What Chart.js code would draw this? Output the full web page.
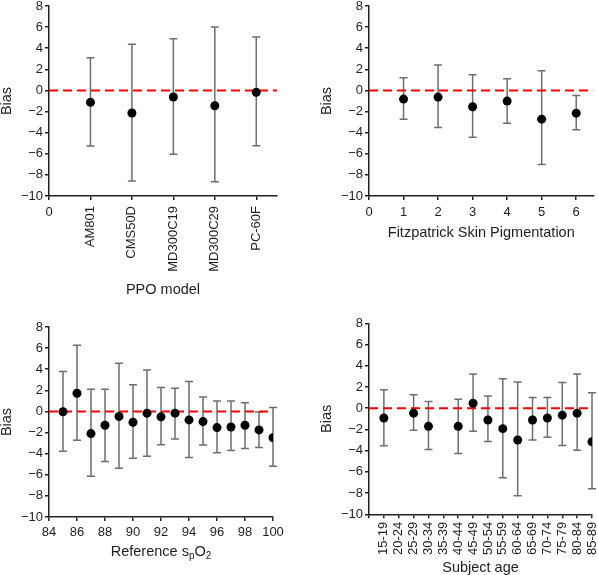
<!DOCTYPE html>
<html>
<head>
<meta charset="utf-8">
<script src="https://cdn.jsdelivr.net/npm/chart.js@4/dist/chart.umd.min.js"></script>
<style>
  html, body { margin: 0; padding: 0; background: #fff; }
  #wrap { position: relative; width: 598px; height: 575px; overflow: hidden; }
  canvas { position: absolute; }
</style>
</head>
<body>
<div id="wrap">
  <canvas id="c1" width="298" height="300" style="left:0px;top:0px;width:298px;height:300px"></canvas>
  <canvas id="c2" width="278" height="300" style="left:320px;top:0px;width:278px;height:300px"></canvas>
  <canvas id="c3" width="298" height="275" style="left:0px;top:300px;width:298px;height:275px"></canvas>
  <canvas id="c4" width="278" height="275" style="left:320px;top:300px;width:278px;height:275px"></canvas>
</div>
<script>
// ---------- DATA ----------
const yTickMin = -10, yTickMax = 8, yTickStep = 2;

const ppoModels = ['AM801', 'CMS50D', 'MD300C19', 'MD300C29', 'PC-60F'];
const ppoBias   = [-1.13, -2.14, -0.62, -1.45, -0.18];
const ppoUpper  = [3.10, 4.37, 4.90, 6.00, 5.06];
const ppoLower  = [-5.27, -8.58, -6.05, -8.64, -5.23];

const fitzTypes = [1, 2, 3, 4, 5, 6];
const fitzBias  = [-0.82, -0.63, -1.55, -1.01, -2.72, -2.15];
const fitzUpper = [1.20, 2.40, 1.49, 1.11, 1.87, -0.47];
const fitzLower = [-2.72, -3.51, -4.43, -3.10, -7.02, -3.73];

const refSpO2   = [85, 86, 87, 88, 89, 90, 91, 92, 93, 94, 95, 96, 97, 98, 99, 100];
const spo2Bias  = [-0.03, 1.72, -2.10, -1.31, -0.48, -1.02, -0.16, -0.51, -0.16, -0.80, -0.96, -1.53, -1.47, -1.31, -1.75, -2.49];
const spo2Upper = [3.79, 6.28, 2.10, 2.10, 4.56, 2.52, 3.92, 2.26, 2.20, 2.84, 1.37, 0.99, 0.99, 0.83, -0.06, 0.38];
const spo2Lower = [-3.76, -2.74, -6.15, -4.75, -5.39, -4.43, -4.24, -3.16, -2.61, -4.37, -3.19, -3.92, -3.70, -3.50, -3.41, -5.20];

const ageGroups = ['15-19', '20-24', '25-29', '30-34', '35-39', '40-44', '45-49', '50-54', '55-59', '60-64', '65-69', '70-74', '75-79', '80-84', '85-89'];
const ageBias   = [-0.92, null, -0.47, -1.71, null, -1.71, 0.47, -1.11, -1.93, -3.00, -1.11, -0.92, -0.66, -0.47, -3.16];
const ageUpper  = [1.74, null, 1.27, 0.63, null, 0.85, 3.23, 1.14, 2.78, 2.47, 1.01, 1.01, 2.41, 3.23, 1.46];
const ageLower  = [-3.54, null, -2.09, -3.89, null, -4.27, -2.18, -3.13, -6.55, -8.26, -3.00, -2.75, -3.51, -3.96, -7.59];

const zeroLevel = 0;
const yTitle = 'Bias';
const titlePPO = 'PPO model';
const titleFitz = 'Fitzpatrick Skin Pigmentation';
const titleSpO2Parts = [['Reference s', false], ['p', true], ['O', false], ['2', true]];
const titleAge = 'Subject age';

// ---------- STYLE ----------
const FAMILY = '"Liberation Sans", Arial, Helvetica, sans-serif';
const TEXT = '#1e1e1e';
const AXIS = '#222222';
Chart.defaults.font.family = FAMILY;
Chart.defaults.color = TEXT;

const errorBarPlugin = {
  id: 'errorBars',
  beforeDatasetsDraw(chart) {
    const ctx = chart.ctx, xs = chart.scales.x, ys = chart.scales.y;
    chart.data.datasets.forEach(ds => {
      if (!ds.errUpper) return;
      ds.data.forEach((p, i) => {
        if (p.y == null || ds.errUpper[i] == null) return;
        const x = xs.getPixelForValue(p.x);
        const yt = ys.getPixelForValue(ds.errUpper[i]);
        const yb = ys.getPixelForValue(ds.errLower[i]);
        ctx.save();
        ctx.strokeStyle = '#6e6e6e';
        ctx.lineWidth = 1.5;
        ctx.beginPath();
        ctx.moveTo(x, yt); ctx.lineTo(x, yb);
        ctx.moveTo(x - 4, yt); ctx.lineTo(x + 4, yt);
        ctx.moveTo(x - 4, yb); ctx.lineTo(x + 4, yb);
        ctx.stroke();
        ctx.restore();
      });
    });
  }
};

function minus(v) { return v < 0 ? '\u2212' + Math.abs(v) : String(v); }

function yScale() {
  return {
    type: 'linear', min: yTickMin, max: yTickMax,
    border: { display: true, color: AXIS, width: 1.5 },
    grid: { drawOnChartArea: false, drawTicks: true, tickLength: 4, color: AXIS, lineWidth: 1.5 },
    ticks: { stepSize: yTickStep, padding: 2, font: { size: 13 }, color: TEXT, callback: minus },
    title: { display: true, text: yTitle, padding: 0, font: { size: 14.5, lineHeight: 1 }, color: TEXT },
    afterFit(s) { s.width = 49; s.paddingTop = 0; s.paddingBottom = 0; }
  };
}

function xScale(o) {
  return {
    type: 'linear', min: o.min, max: o.max,
    border: { display: true, color: AXIS, width: 1.5 },
    grid: { drawOnChartArea: false, drawTicks: true, tickLength: 4, color: AXIS, lineWidth: 1.5 },
    ticks: {
      stepSize: o.step, includeBounds: false, autoSkip: false,
      minRotation: o.rot, maxRotation: o.rot, padding: o.pad,
      font: { size: 13 }, color: TEXT, callback: o.cb
    },
    title: { display: !!o.title, text: o.title || '', padding: { top: 0, bottom: o.tpad || 0 }, font: { size: 14.5, lineHeight: 1 }, color: TEXT },
    afterFit(s) { s.height = o.h; s.paddingLeft = 0; s.paddingRight = 0; }
  };
}

function makeChart(id, xs, bias, up, lo, xo, padding, extraPlugins) {
  const pts = xs.map((x, i) => ({ x: x, y: bias[i] }));
  return new Chart(document.getElementById(id), {
    type: 'scatter',
    data: {
      datasets: [
        { data: pts, errUpper: up, errLower: lo, pointRadius: 4.5, pointBackgroundColor: '#000', pointBorderColor: '#000', pointBorderWidth: 0, order: 0 },
        { type: 'line', data: [{ x: xo.min, y: zeroLevel }, { x: xo.max, y: zeroLevel }], borderColor: '#ff0000', borderWidth: 2, borderDash: [9, 5], pointRadius: 0, fill: false, order: 1 }
      ]
    },
    options: {
      responsive: false, animation: false, events: [],
      layout: { padding: padding },
      plugins: { legend: { display: false }, tooltip: { enabled: false } },
      scales: { x: xScale(xo), y: yScale() }
    },
    plugins: [errorBarPlugin].concat(extraPlugins || [])
  });
}

// Panel 1: PPO model
const zeroLabelPlugin = {
  id: 'zeroLabel',
  afterDraw(chart) {
    const ctx = chart.ctx, xs = chart.scales.x;
    ctx.save();
    ctx.font = '13px ' + FAMILY;
    ctx.fillStyle = TEXT;
    ctx.textAlign = 'center';
    ctx.textBaseline = 'middle';
    ctx.fillText('0', xs.getPixelForValue(0), chart.chartArea.bottom + 16.5);
    ctx.restore();
  }
};
makeChart('c1', ppoModels.map((m, i) => i + 1), ppoBias, ppoUpper, ppoLower,
  { min: 0, max: 5.5, step: 1, rot: 90, pad: 6, h: 101.25, title: titlePPO, tpad: 0,
    cb: v => (v >= 1 && v <= ppoModels.length) ? ppoModels[v - 1] : '' },
  { left: 0, top: 6, right: 21, bottom: 2.75 }, [zeroLabelPlugin]);

// Panel 2: Fitzpatrick
makeChart('c2', fitzTypes, fitzBias, fitzUpper, fitzLower,
  { min: 0, max: 6.5, step: 1, rot: 0, pad: 4.5, h: 43.9, title: titleFitz, tpad: 0,
    cb: v => String(v) },
  { left: 0, top: 6, right: 2, bottom: 60.1 });

// Panel 3: Reference SpO2
const spo2TitlePlugin = {
  id: 'spo2Title',
  afterDraw(chart) {
    const ctx = chart.ctx, ca = chart.chartArea;
    const mainF = '14.5px ' + FAMILY, subF = '10px ' + FAMILY;
    ctx.save();
    let total = 0;
    const widths = titleSpO2Parts.map(([t, sub]) => { ctx.font = sub ? subF : mainF; const w = ctx.measureText(t).width; total += w; return w; });
    let x = (ca.left + ca.right) / 2 - total / 2;
    const y = ca.bottom + 34.7;
    ctx.fillStyle = TEXT;
    ctx.textAlign = 'left';
    ctx.textBaseline = 'middle';
    titleSpO2Parts.forEach(([t, sub], i) => {
      ctx.font = sub ? subF : mainF;
      ctx.fillText(t, x, sub ? y + 4.5 : y);
      x += widths[i];
    });
    ctx.restore();
  }
};
makeChart('c3', refSpO2, spo2Bias, spo2Upper, spo2Lower,
  { min: 84, max: 100, step: 2, rot: 0, pad: 3.5, h: 42, title: '',
    cb: v => String(v) },
  { left: 0, top: 27, right: 25, bottom: 16 }, [spo2TitlePlugin]);

// Panel 4: Subject age
makeChart('c4', ageGroups.map((g, i) => i + 1), ageBias, ageUpper, ageLower,
  { min: 0, max: 15, step: 1, rot: 90, pad: 3.4, h: 60.6, title: titleAge, tpad: 0,
    cb: v => (v >= 1 && v <= ageGroups.length) ? ageGroups[v - 1] : '' },
  { left: 0, top: 23.3, right: 6, bottom: 0.1 });
</script>
</body>
</html>
